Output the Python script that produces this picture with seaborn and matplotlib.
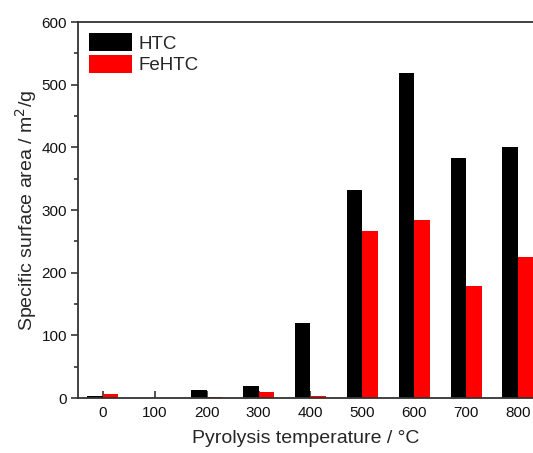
import matplotlib
matplotlib.use("Agg")
import matplotlib.pyplot as plt
import seaborn as sns
import pandas as pd

temperatures = ["0", "100", "200", "300", "400", "500", "600", "700", "800"]
htc = [3, 0, 13, 19, 119, 332, 519, 383, 401]
fehtc = [7, 0, 2, 10, 3, 266, 284, 178, 225]
series = ["HTC", "FeHTC"]
colors = ["#000000", "#ff0000"]

df = pd.DataFrame({
    "temp": temperatures * 2,
    "area": htc + fehtc,
    "sample": [series[0]] * len(htc) + [series[1]] * len(fehtc),
})

sns.set_style("ticks")
plt.rcParams["font.family"] = ["Liberation Sans", "DejaVu Sans"]

fig = plt.figure(figsize=(5.33, 4.53), dpi=100)
ax = fig.add_axes([78 / 533, 55 / 453, 1 - 78 / 533, 376 / 453])

sns.barplot(data=df, x="temp", y="area", hue="sample", order=temperatures,
            hue_order=series, palette=colors, width=0.6, gap=0,
            saturation=1, linewidth=0, ax=ax)

ax.set_xlim(-0.48, 8.29)
ax.set_ylim(0, 600)
ax.set_yticks(range(0, 601, 100))
ax.set_yticks(range(50, 600, 100), minor=True)

for side in ["left", "bottom", "top"]:
    ax.spines[side].set_color("#333333")
    ax.spines[side].set_linewidth(1.3)
ax.spines["right"].set_visible(False)

ax.tick_params(axis="y", which="major", direction="out", length=5, width=1.2,
               color="#333333", labelsize=11, pad=3, labelcolor="#111111")
ax.tick_params(axis="y", which="minor", direction="out", length=3, width=1.2,
               color="#333333")
ax.tick_params(axis="x", which="major", direction="in", length=5, width=1.2,
               color="#333333", labelsize=11, pad=6, labelcolor="#111111")

ax.set_xlabel("Pyrolysis temperature / °C", fontsize=14, labelpad=7)
ax.set_ylabel("Specific surface area / m$^2$/g", fontsize=14, labelpad=2)

ax.legend(loc="upper left", bbox_to_anchor=(0.0, 1.0), frameon=False,
          fontsize=13.5, handlelength=2.3, handleheight=1.1, labelspacing=0.12,
          handletextpad=0.35, borderaxespad=0.4, borderpad=0.2)

fig.savefig("out.png", dpi=100)
